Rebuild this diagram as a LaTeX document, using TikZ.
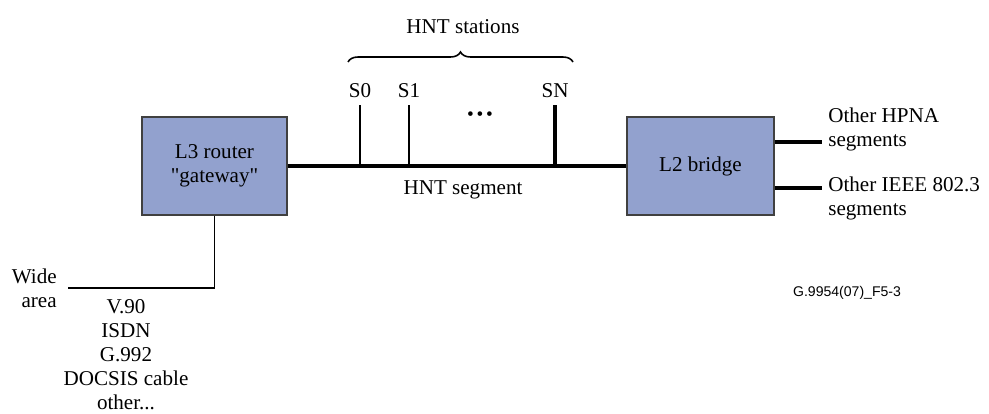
\documentclass[tikz,border=0pt]{standalone}
\usepackage{fontspec}
\setmainfont{Liberation Serif}
\setsansfont{Liberation Sans}
\usetikzlibrary{decorations.pathreplacing}
\definecolor{boxblue}{RGB}{146,161,206}
\begin{document}
\begin{tikzpicture}[x=0.02cm, y=-0.02cm,
  every node/.style={font=\fontsize{12}{13.7}\selectfont, inner sep=0pt},
  unit/.style={draw=black!75, fill=boxblue, line width=0.8pt, align=center,
    minimum height=1.96cm},
  bus/.style={line width=2.3pt},
  wan/.style={line width=1.1pt}
]
    \useasboundingbox (0,0) rectangle (989,413);
    % boxes
    \node[unit, minimum width=2.9cm] (l3) at (214.5,166) {L3 router\\\textquotedbl gateway\textquotedbl};
    \node[unit, minimum width=2.94cm] (l2) at (700.5,166) {L2 bridge};
    % HNT segment
    \draw[bus] (l3.east |- l2.west) -- (l2.west);
    \node (seg) at (463,190) {HNT segment};
    % stations
    \foreach \x/\n/\w in {360/S0/1.4pt, 409/S1/1.4pt, 555/SN/2pt} {
        \node[anchor=base] (\n) at (\x,97) {\n};
        \draw[line width=\w] (\x,105) -- (\x,165);
    }
    \node (dots) at (480,116) {\fontsize{11}{12}\selectfont •\hspace{1.6pt}•\hspace{1.6pt}•};
    \draw[line width=0.9pt, decorate, decoration={brace, amplitude=0.2cm}] (348,62) -- (573,62);
    \node (stations) at (463,27) {HNT stations};
    % wide area side
    \coordinate (wanend) at (68,288);
    \draw[wan] (l3.south) |- (wanend);
    \node[anchor=east, align=right] (wide) at (57,288) {Wide\\area};
    \node[anchor=north, align=center] (wanlist) at (126,299) {V.90\\ISDN\\G.992\\DOCSIS cable\\other...};
    % bridge outputs
    \coordinate (hpna) at (822,142);
    \coordinate (ieee) at (822,188);
    \draw[bus] (l2.east |- hpna) -- (hpna);
    \draw[bus] (l2.east |- ieee) -- (ieee);
    \node[anchor=west, align=left] (hpnalbl) at (828,129) {Other HPNA\\segments};
    \node[anchor=west, align=left] (ieeelbl) at (828,198) {Other IEEE 802.3\\segments};
    % figure tag
    \node[font=\sffamily\fontsize{8}{9}\selectfont] (tag) at (847,293) {G.9954(07)\_F5-3};
\end{tikzpicture}
\end{document}
